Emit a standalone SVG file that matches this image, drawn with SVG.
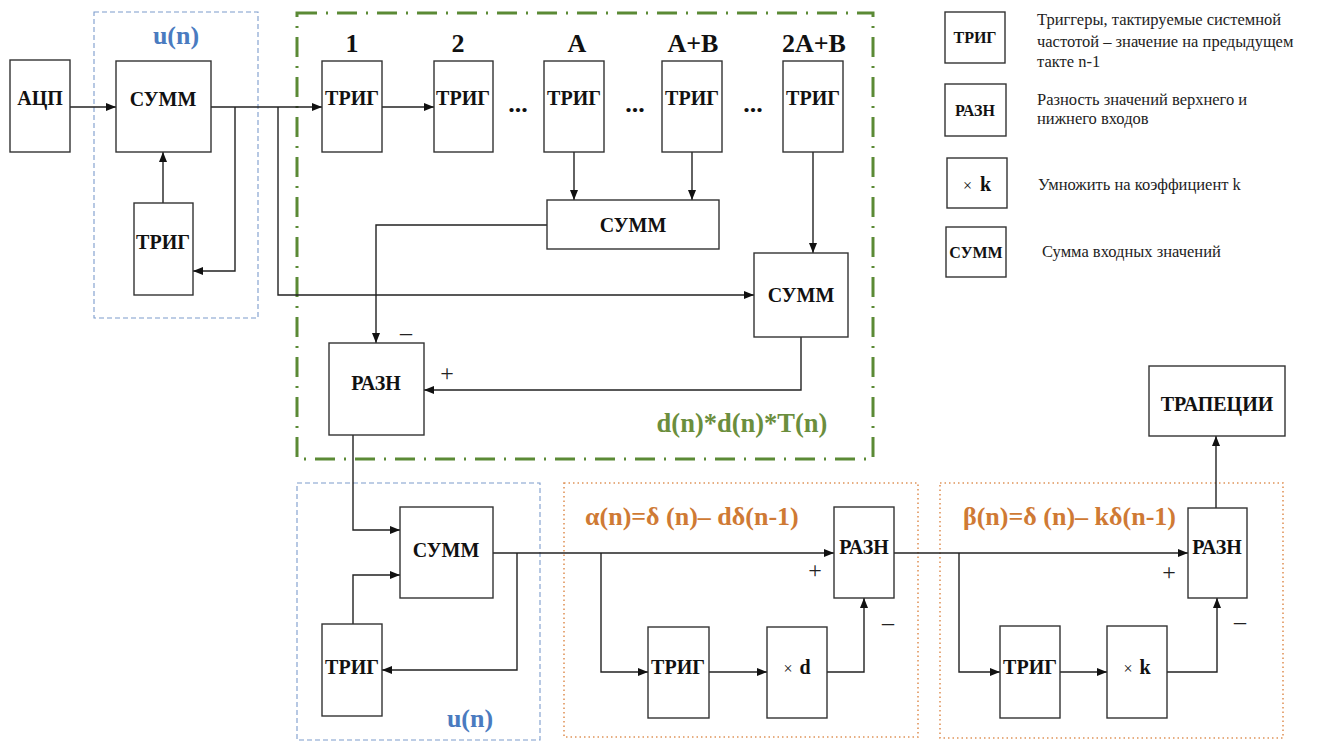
<svg xmlns="http://www.w3.org/2000/svg" width="1317" height="742" viewBox="0 0 1317 742">
<defs>
<marker id="ah" viewBox="0 0 10 10" refX="10" refY="5" markerWidth="10" markerHeight="10" markerUnits="userSpaceOnUse" orient="auto">
<path d="M0,1 L10,5 L0,9 z" fill="#111"/>
</marker>
</defs>
<style>
text{font-family:'Liberation Serif','Times New Roman','DejaVu Serif',serif}
.b{fill:#fff;stroke:#333;stroke-width:1.4}
.t{font-weight:bold;font-size:20px;fill:#111;text-anchor:middle}
.lt{font-weight:bold;font-size:16px;fill:#111;text-anchor:middle}
.n{font-weight:bold;font-size:26px;fill:#111;text-anchor:middle}
.d{font-size:16.5px;fill:#222}
.s{font-size:24px;fill:#222;text-anchor:middle}
.x{font-weight:normal;font-size:16px}
.c path{fill:none;stroke:#222;stroke-width:1.4}
.c path.a{marker-end:url(#ah)}
.g{fill:none;stroke:#5b8a35;stroke-width:3;stroke-dasharray:20 9 2 9}
.bl{fill:none;stroke:#7c9ccc;stroke-width:1.1;stroke-dasharray:5 3}
.or{fill:none;stroke:#e0945a;stroke-width:1.6;stroke-dasharray:1.5 3}
.lg{font-weight:bold;font-size:26.5px;fill:#6b8e3d;text-anchor:middle}
.lb{font-weight:bold;font-size:26px;fill:#4a7bc0;text-anchor:middle}
.lo{font-weight:bold;font-size:26px;fill:#cf7a34}
</style>
<rect width="1317" height="742" fill="#fff"/>

<g id="frames">
<rect class="bl" x="94" y="12" width="164" height="306"/>
<rect class="g" x="297" y="13" width="576" height="446"/>
<rect class="bl" x="297" y="483" width="243" height="257"/>
<rect class="or" x="564" y="483" width="354" height="254"/>
<rect class="or" x="940" y="483" width="343" height="255"/>
<text class="lb" x="176" y="44">u(n)</text>
<text class="lg" x="742" y="432">d(n)*d(n)*T(n)</text>
<text class="lb" x="470" y="727">u(n)</text>
<text class="lo" x="585" y="525">α(n)=δ (n)– dδ(n-1)</text>
<text class="lo" x="963" y="525">β(n)=δ (n)– kδ(n-1)</text>
</g>

<g class="c" id="connectors">
<path class="a" d="M70,107 H116"/>
<path class="a" d="M211,107 H322"/>
<path class="a" d="M235,107 V271 H193"/>
<path class="a" d="M163,203 V152"/>
<path class="a" d="M278,107 V295 H754"/>
<path class="a" d="M382,107 H434"/>
<path class="a" d="M574,152 V200"/>
<path class="a" d="M692,152 V200"/>
<path class="a" d="M813,152 V253"/>
<path class="a" d="M547,225 H376 V343"/>
<path class="a" d="M801,337 V390 H424"/>
<path class="a" d="M353,435 V530 H400"/>
<path class="a" d="M353,624 V575 H400"/>
<path class="a" d="M493,553 H834"/>
<path class="a" d="M517,553 V670 H382"/>
<path class="a" d="M601,553 V672 H648"/>
<path class="a" d="M709,672 H767"/>
<path class="a" d="M827,672 H864 V598"/>
<path class="a" d="M894,553 H1188"/>
<path class="a" d="M959,553 V672 H1000"/>
<path class="a" d="M1060,672 H1107"/>
<path class="a" d="M1167,672 H1217 V598"/>
<path class="a" d="M1216,508 V436"/>
</g>

<g id="signs">
<text class="s" x="406" y="340">–</text>
<text class="s" x="447" y="381">+</text>
<text class="s" x="815" y="578">+</text>
<text class="s" x="888" y="630">–</text>
<text class="s" x="1169" y="580">+</text>
<text class="s" x="1240" y="629">–</text>
<text class="n" x="352" y="52">1</text>
<text class="n" x="458" y="52">2</text>
<text class="n" x="577" y="52">A</text>
<text class="n" x="693" y="52">A+B</text>
<text class="n" x="814" y="52">2A+B</text>
<text class="n" x="518" y="112">...</text>
<text class="n" x="635" y="112">...</text>
<text class="n" x="753" y="112">...</text>
</g>

<g id="adc"><rect class="b" x="10" y="60" width="60" height="92"/><text class="t" x="40" y="105">АЦП</text></g>
<g id="sum1"><rect class="b" x="116" y="61" width="95" height="91"/><text class="t" x="163" y="106">СУММ</text></g>
<g id="trig0"><rect class="b" x="134" y="203" width="59" height="92"/><text class="t" x="163" y="249">ТРИГ</text></g>
<g id="trig1"><rect class="b" x="322" y="61" width="60" height="91"/><text class="t" x="352" y="105">ТРИГ</text></g>
<g id="trig2"><rect class="b" x="434" y="61" width="59" height="91"/><text class="t" x="463" y="105">ТРИГ</text></g>
<g id="trigA"><rect class="b" x="544" y="61" width="60" height="91"/><text class="t" x="574" y="105">ТРИГ</text></g>
<g id="trigAB"><rect class="b" x="662" y="61" width="60" height="91"/><text class="t" x="692" y="105">ТРИГ</text></g>
<g id="trig2AB"><rect class="b" x="783" y="61" width="60" height="91"/><text class="t" x="813" y="105">ТРИГ</text></g>
<g id="sum2"><rect class="b" x="547" y="200" width="172" height="49"/><text class="t" x="633" y="232">СУММ</text></g>
<g id="sum3"><rect class="b" x="754" y="253" width="94" height="84"/><text class="t" x="801" y="302">СУММ</text></g>
<g id="razn1"><rect class="b" x="329" y="343" width="95" height="92"/><text class="t" x="376" y="390">РАЗН</text></g>
<g id="sum4"><rect class="b" x="400" y="507" width="93" height="91"/><text class="t" x="446" y="557">СУММ</text></g>
<g id="trig3"><rect class="b" x="322" y="624" width="60" height="92"/><text class="t" x="352" y="674">ТРИГ</text></g>
<g id="razn2"><rect class="b" x="834" y="507" width="60" height="91"/><text class="t" x="864" y="554">РАЗН</text></g>
<g id="trig4"><rect class="b" x="648" y="627" width="61" height="91"/><text class="t" x="678" y="674">ТРИГ</text></g>
<g id="muld"><rect class="b" x="767" y="627" width="60" height="91"/><text class="t" x="797" y="674"><tspan class="x">×</tspan><tspan dx="7">d</tspan></text></g>
<g id="razn3"><rect class="b" x="1188" y="508" width="59" height="90"/><text class="t" x="1217" y="554">РАЗН</text></g>
<g id="trig5"><rect class="b" x="1000" y="626" width="60" height="92"/><text class="t" x="1030" y="674">ТРИГ</text></g>
<g id="mulk"><rect class="b" x="1107" y="626" width="60" height="92"/><text class="t" x="1137" y="674"><tspan class="x">×</tspan><tspan dx="7">k</tspan></text></g>
<g id="trap"><rect class="b" x="1149" y="366" width="136" height="70"/><text class="t" x="1217" y="411">ТРАПЕЦИИ</text></g>

<g id="legend">
<rect class="b" x="945" y="12" width="60" height="51"/><text class="lt" x="975" y="43">ТРИГ</text>
<text class="d" x="1037" y="25">Триггеры, тактируемые системной</text>
<text class="d" x="1037" y="47">частотой – значение на предыдущем</text>
<text class="d" x="1037" y="67">такте n-1</text>
<rect class="b" x="945" y="84" width="61" height="52"/><text class="lt" x="975" y="116">РАЗН</text>
<text class="d" x="1037" y="105">Разность значений верхнего и</text>
<text class="d" x="1037" y="124">нижнего входов</text>
<rect class="b" x="947" y="158" width="60" height="50"/><text class="t" x="977" y="191"><tspan class="x">×</tspan><tspan dx="8">k</tspan></text>
<text class="d" x="1038" y="190">Умножить на коэффициент k</text>
<rect class="b" x="946" y="227" width="60" height="50"/><text class="lt" x="976" y="258">СУММ</text>
<text class="d" x="1042" y="257">Сумма входных значений</text>
</g>
</svg>
